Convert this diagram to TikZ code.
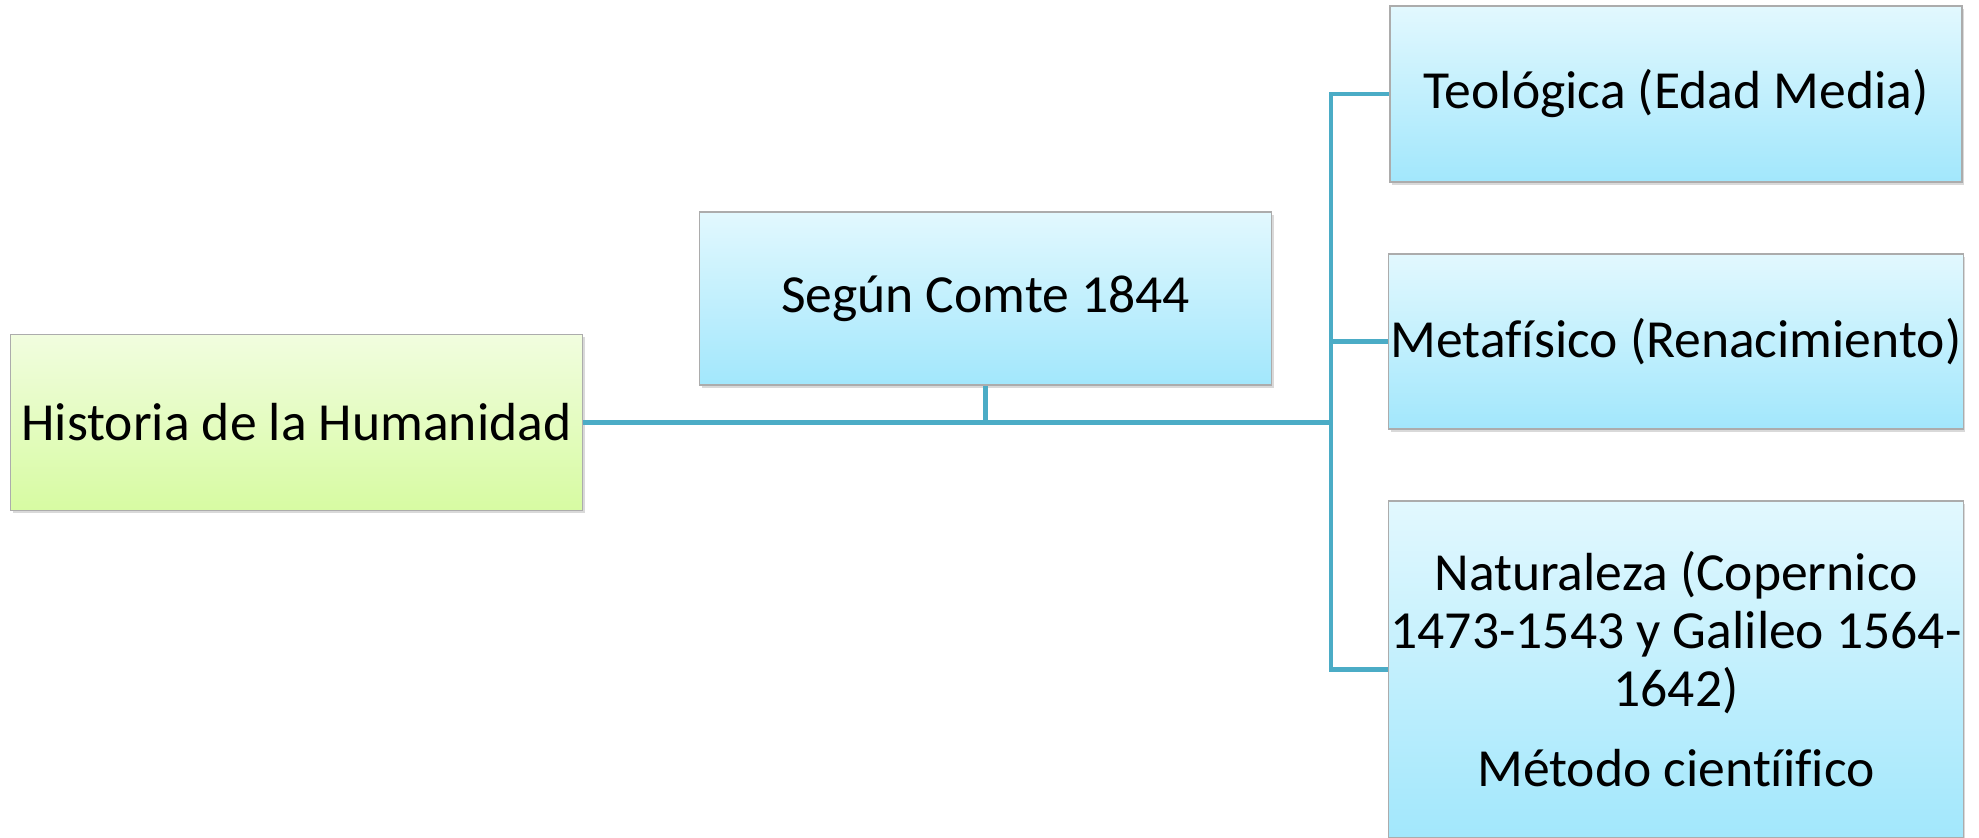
\documentclass[tikz,border=0pt]{standalone}
\usepackage{fontspec}
\setmainfont{Carlito}[Ligatures=NoCommon]
\usetikzlibrary{shadows}

\definecolor{linkblue}{HTML}{4BACC6}
\definecolor{greentop}{HTML}{F1FDDF}
\definecolor{greenbot}{HTML}{D7FBA2}
\definecolor{bluetop}{HTML}{E2F8FE}
\definecolor{bluebot}{HTML}{A2E7FC}

\tikzset{
	box/.style={draw=gray!65, line width=0.6pt, minimum width=286pt, inner sep=1pt, align=center,
		font=\fontsize{26.8}{29}\selectfont,
		drop shadow={shadow xshift=1pt, shadow yshift=-1.5pt, opacity=0.3}},
	greenbox/.style={box, top color=greentop, bottom color=greenbot},
	bluebox/.style={box, top color=bluetop, bottom color=bluebot},
	link/.style={draw=linkblue, line width=2.3pt}
}

\begin{document}
\begin{tikzpicture}[x=0.5pt,y=-0.5pt]
	\useasboundingbox (0,0) rectangle (1979,838);

	\node[greenbox, minimum height=88pt] (hist) at (296.5,422.5) {Historia de la Humanidad};
	\node[bluebox, minimum height=86.5pt] (comte) at (985.5,298.5) {Según Comte 1844};

	\node[bluebox, minimum height=88pt] (teo) at (1676,94) {Teológica (Edad Media)};
	\node[bluebox, minimum height=87.5pt] (meta) at (1676,341.5) {Metafísico (Renacimiento)};
	\node[bluebox, minimum height=168.5pt] (nat) at (1676,669.5)
		{Naturaleza (Copernico\\1473-1543 y Galileo 1564-\\1642)\\[11pt]Método cientíifico};

	\coordinate (fork) at (1331,422.5);

	\draw[link] (hist.east) -- (fork);
	\draw[link] (comte.south) -- (comte.south |- hist.east);
	\draw[link] (teo.west) -| (fork) |- (nat.west);
	\draw[link] (meta.west) -- (meta.west -| fork);
\end{tikzpicture}
\end{document}
